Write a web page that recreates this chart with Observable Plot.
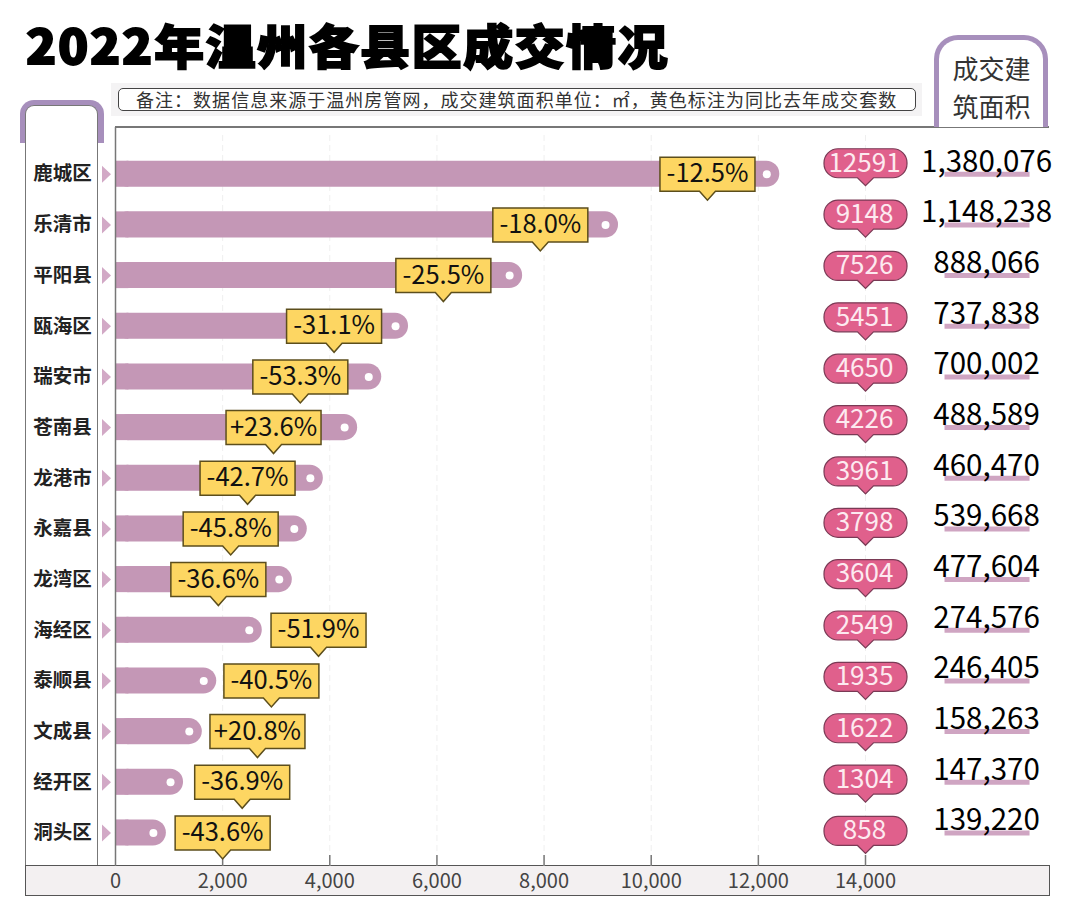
<!DOCTYPE html>
<html lang="zh">
<head>
<meta charset="utf-8">
<script src="https://cdn.jsdelivr.net/npm/d3@7"></script>
<script src="https://cdn.jsdelivr.net/npm/@observablehq/plot@0.6"></script>
<style>
html,body{margin:0;padding:0;background:#fff;}
body{width:1080px;height:918px;position:relative;overflow:hidden;font-family:"Noto Sans CJK SC","Noto Sans",sans-serif;}
.abs{position:absolute;box-sizing:border-box;}
#title{left:26px;top:11px;margin:0;font-size:47px;line-height:66px;font-weight:900;color:#000;-webkit-text-stroke:1.8px #000;white-space:nowrap;letter-spacing:1.6px;transform:scaleX(1.06);transform-origin:left center;}
#noteBg{left:111px;top:83px;width:811px;height:33px;background:#f4f3f4;}
#note{left:118px;top:88px;width:798px;height:23px;background:#fff;border:1.5px solid #444;border-radius:5px;font-size:18px;line-height:20px;color:#333;padding-left:17px;letter-spacing:1.03px;white-space:nowrap;}
#topline{left:115px;top:126px;width:934px;height:2px;background:#777;}
#leftOuter{left:20px;top:100px;width:84px;height:43px;background:#a78fbc;border-radius:14px 14px 0 0;}
#leftInner{left:25px;top:105px;width:73px;height:761px;background:#fff;border:1.5px solid #777;border-bottom:none;border-radius:9px 9px 0 0;}
#rightTab{left:934px;top:35px;width:114px;height:92px;background:#fff;border:5px solid #a78fbc;border-bottom:none;border-radius:24px 24px 0 0;}
#strip{left:25px;top:865px;width:1025px;height:31px;background:#f3f0f1;border:1.5px solid #555;}
#chart{left:0;top:0;}
</style>
</head>
<body>
<div class="abs" id="leftOuter"></div>
<div class="abs" id="leftInner"></div>
<div class="abs" id="topline"></div>
<div class="abs" id="strip"></div>
<div class="abs" id="rightTab"></div>
<h1 class="abs" id="title">2022年温州各县区成交情况</h1>
<div class="abs" id="noteBg"></div>
<div class="abs" id="note">备注&#xFF1A;数据信息来源于温州房管网&#xFF0C;成交建筑面积单位&#xFF1A;㎡&#xFF0C;黄色标注为同比去年成交套数</div>
<div class="abs" id="chart"></div>
<script>
const districts = ["鹿城区","乐清市","平阳县","瓯海区","瑞安市","苍南县","龙港市","永嘉县","龙湾区","海经区","泰顺县","文成县","经开区","洞头区"];
const barLengths = [12400,9390,7600,5470,4970,4520,3880,3580,3300,2740,1890,1620,1270,950];
const units = [12591,9148,7526,5451,4650,4226,3961,3798,3604,2549,1935,1622,1304,858];
const areas = [1380076,1148238,888066,737838,700002,488589,460470,539668,477604,274576,246405,158263,147370,139220];
const changes = ["-12.5%","-18.0%","-25.5%","-31.1%","-53.3%","+23.6%","-42.7%","-45.8%","-36.6%","-51.9%","-40.5%","+20.8%","-36.9%","-43.6%"];
const changeAt = [11050,7930,6120,4080,3450,2950,2465,2150,1920,3790,2910,2650,2365,2000];
const xTicks = [0,2000,4000,6000,8000,10000,12000,14000];

const rows = districts.map((name,i)=>({name,i,bar:barLengths[i],units:String(units[i]),area:areas[i],change:changes[i],at:changeAt[i]}));
const font = '"Noto Sans CJK SC","Noto Sans",sans-serif';

// right-pointing marker at the start of each bar
const arrow = {draw(c){c.moveTo(-4.5,-8.5);c.lineTo(4.5,0);c.lineTo(-4.5,8.5);c.closePath();}};
// rectangle with a pointer below its centre
const yellowBox = {draw(c){
  c.moveTo(-47.5,-17);c.lineTo(47.5,-17);c.lineTo(47.5,17);c.lineTo(8,17);c.lineTo(0,26);c.lineTo(-8,17);c.lineTo(-47.5,17);c.closePath();
}};
// pill with a pointer below its centre
const pill = {draw(c){
  const w=41.5,h=14.5,r=14;
  c.moveTo(-w+r,-h);c.lineTo(w-r,-h);c.arcTo(w,-h,w,-h+r,r);c.lineTo(w,h-r);c.arcTo(w,h,w-r,h,r);
  c.lineTo(8,h);c.lineTo(0,h+8);c.lineTo(-8,h);c.lineTo(-w+r,h);c.arcTo(-w,h,-w,h-r,r);c.lineTo(-w,-h+r);c.arcTo(-w,-h,-w+r,-h,r);c.closePath();
}};
const pillShift = i => -11 + 9*i/13;

const barInset = 12.3;
const chart = Plot.plot({
  width:1080, height:918,
  marginLeft:115, marginRight:215, marginTop:127, marginBottom:52,
  style:{background:"transparent",fontFamily:font,overflow:"visible"},
  x:{domain:[0,14000],axis:null},
  y:{domain:districts,range:[148.4,857.8],padding:0,round:false,axis:null},
  marks:[
    Plot.ruleX(xTicks.slice(1),{x:d=>d,stroke:"#efefef",strokeWidth:1,strokeDasharray:"6 4",insetTop:8}),
    Plot.ruleX(xTicks.slice(1),{x:d=>d,stroke:"#777",strokeWidth:1.5,insetTop:728}),
    Plot.axisX({ticks:xTicks,tickFormat:d3.format(","),anchor:"bottom",tickSize:0,tickPadding:7,label:null,fontSize:20,fill:"#444",fontFamily:font}),
    Plot.barX(rows,{x:"bar",y:"name",fill:"#c497b6",rx:13,insetTop:barInset,insetBottom:barInset}),
    Plot.barX(rows,{x:()=>250,y:"name",fill:"#c497b6",insetTop:barInset,insetBottom:barInset}),
    Plot.ruleX([0],{x:d=>d,stroke:"#777",strokeWidth:1.5}),
    Plot.dot(rows,{x:"bar",y:"name",r:4,fill:"#fff",dx:-13}),
    Plot.dot(rows,{x:()=>0,y:"name",symbol:arrow,r:8,fill:"#d2a9c6",dx:-9}),
    Plot.text(rows,{text:"name",y:"name",frameAnchor:"left",dx:-53,textAnchor:"middle",fontSize:19.5,fontWeight:700,fill:"#222",fontFamily:font}),
    Plot.dot(rows,{x:"at",y:"name",symbol:yellowBox,r:10,fill:"#fdd662",stroke:"#5c4e1c",strokeWidth:1.5}),
    Plot.text(rows,{x:"at",y:"name",text:"change",fontSize:25.5,fill:"#111",fontFamily:font}),
    ...rows.flatMap(d=>[
      Plot.dot([d],{x:()=>14000,y:"name",symbol:pill,r:10,fill:"#e0608c",stroke:"#7a3a55",strokeWidth:1.2,dy:pillShift(d.i)}),
      Plot.text([d],{x:()=>14000,y:"name",text:"units",fontSize:26,fill:"#fdeaf0",dx:-1,dy:pillShift(d.i),fontFamily:font})
    ]),
    Plot.link(rows,{x1:()=>15475,x2:()=>17062,y1:"name",y2:"name",stroke:"#cfa5c2",strokeWidth:5}),
    Plot.text(rows,{x:()=>16260,y:"name",text:d=>d3.format(",")(d.area),fontSize:29.5,fill:"#000",dy:-12,fontFamily:font}),
    Plot.text(["成交建\n筑面积"],{x:()=>16352,frameAnchor:"top",textAnchor:"middle",lineAnchor:"top",lineHeight:1.45,dy:-75,fontSize:26,fill:"#333",fontFamily:font})
  ]
});
document.getElementById("chart").appendChild(chart);
</script>
</body>
</html>
